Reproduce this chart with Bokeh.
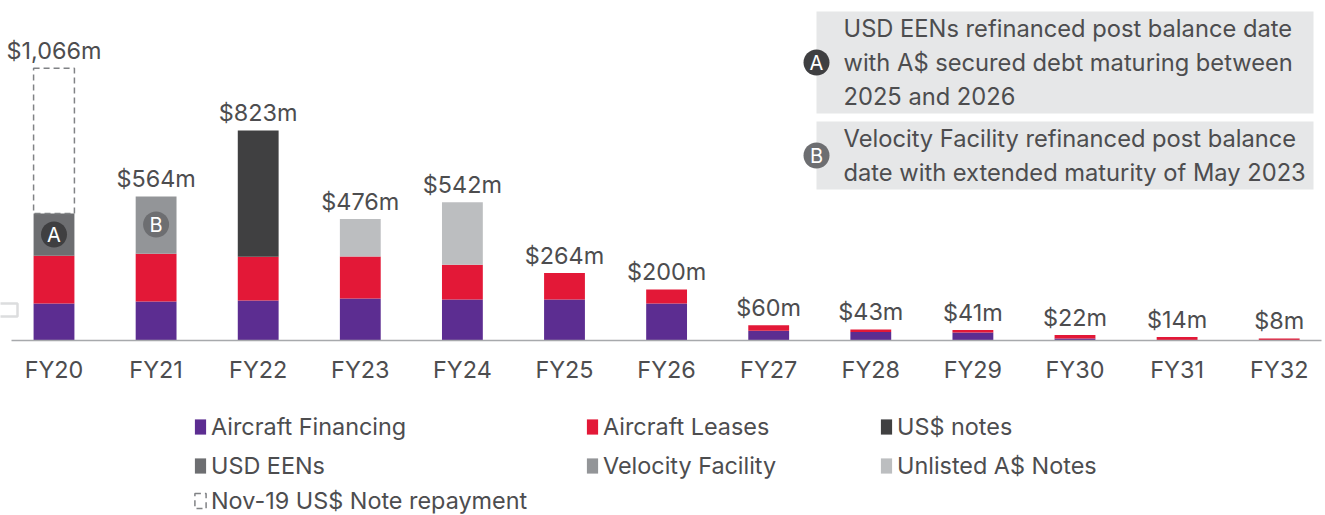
from bokeh.plotting import figure
from bokeh.models import Range1d, FixedTicker, ColumnDataSource, Legend, LegendItem
from bokeh.core.properties import value
from bokeh.embed import file_html
from bokeh.resources import INLINE

years = ["FY20","FY21","FY22","FY23","FY24","FY25","FY26","FY27","FY28","FY29","FY30","FY31","FY32"]
aircraft_financing = [145,153,157,165,161,161,145,38,33,31,8,0,0]
aircraft_leases = [187,187,171,164,136,103,55,22,10,10,14,14,8]
us_notes = [0,0,495,0,0,0,0,0,0,0,0,0,0]
usd_eens = [165,0,0,0,0,0,0,0,0,0,0,0,0]
velocity = [0,224,0,0,0,0,0,0,0,0,0,0,0]
unlisted = [0,0,0,147,245,0,0,0,0,0,0,0,0]
nov19 = [569,0,0,0,0,0,0,0,0,0,0,0,0]
labels = ["$1,066m","$564m","$823m","$476m","$542m","$264m","$200m","$60m","$43m","$41m","$22m","$14m","$8m"]
names = ["Aircraft Financing","Aircraft Leases","US$ notes","USD EENs","Velocity Facility","Unlisted A$ Notes","Nov-19 US$ Note repayment"]
colors = ["#5c2d91","#e31837","#404041","#6d6e71","#939598","#bcbec0"]
note_a = ["USD EENs refinanced post balance date","with A$ secured debt maturing between","2025 and 2026"]
note_b = ["Velocity Facility refinanced post balance","date with extended maturity of May 2023"]

FONT = "Inter"
TXT = "#4d4d4f"
FS = "23.4px"
FS_NOTE = "23.7px"
PXU = 102.1       # px per category
PXV = 0.2553      # px per $m
F_B = 340         # baseline row in the picture
W, H = 1325, 515

def X(px): return (px - 53.5) / PXU
def Y(py): return (F_B - py) / PXV

p = figure(width=W, height=H, output_backend="svg", toolbar_location=None,
           x_range=Range1d(X(0), X(W)), y_range=Range1d(Y(H), Y(0)),
           min_border_left=0, min_border_right=0, min_border_top=0, min_border_bottom=0,
           outline_line_color=None, background_fill_color="white", border_fill_color="white")
p.margin = 0
p.grid.visible = False
p.yaxis.visible = False

xs = list(range(len(years)))
src = ColumnDataSource(dict(x=xs, afin=aircraft_financing, alea=aircraft_leases, usn=us_notes,
                            een=usd_eens, vel=velocity, unl=unlisted))
bars = p.vbar_stack(["afin","alea","usn","een","vel","unl"], x="x", width=0.4, source=src,
                    fill_color=colors, line_color=None)

base = [a+b+c+d+e+f for a,b,c,d,e,f in zip(aircraft_financing,aircraft_leases,us_notes,usd_eens,velocity,unlisted)]
top = [b+n for b,n in zip(base,nov19)]
dash_x = [x for x,n in zip(xs,nov19) if n]
dash_src = ColumnDataSource(dict(x=dash_x, b=[base[i] for i in dash_x], t=[top[i] for i in dash_x]))
dashed = p.vbar(x="x", bottom="b", top="t", width=0.4, source=dash_src, fill_color=None,
                line_color="#808285", line_width=1.5, line_dash="6 4")

# x axis
ax = p.xaxis[0]
ax.fixed_location = 0
ax.bounds = (X(11), X(1321))
ax.ticker = FixedTicker(ticks=xs)
ax.major_label_overrides = {i: y for i, y in enumerate(years)}
ax.major_tick_line_color = None
ax.minor_tick_line_color = None
ax.axis_line_color = "#a7a9ac"
ax.axis_line_width = 1.5
ax.major_label_standoff = 8
ax.major_label_text_font = FONT
ax.major_label_text_font_size = FS
ax.major_label_text_color = TXT

# totals
p.text(xs, top, text=labels, text_font=value(FONT), text_font_size=value(FS), text_color=TXT,
       text_align="center", text_baseline="middle", y_offset=-17.6)

# badges on the bars
p.scatter([0, 1], [Y(234), Y(224)], size=26, marker="circle", fill_color=["#3f3f41","#6d6e71"], line_color=None)
p.text([0, 1], [Y(234), Y(224)], text=["A","B"], text_font=value(FONT), text_font_size=value("20px"),
       text_color="white", text_align="center", text_baseline="middle")

# note panels
p.quad(left=[X(816), X(816)], right=[X(1313), X(1313)], top=[Y(11), Y(121)], bottom=[Y(113), Y(189)],
       fill_color="#e6e7e8", line_color=None)
p.scatter([X(816), X(816)], [Y(62), Y(155)], size=26, marker="circle", fill_color=["#3f3f41","#6d6e71"], line_color=None)
p.text([X(816), X(816)], [Y(62), Y(155)], text=["A","B"], text_font=value(FONT), text_font_size=value("20px"),
       text_color="white", text_align="center", text_baseline="middle")
p.text([X(843)]*3, [Y(28), Y(62), Y(96)], text=note_a, text_font=value(FONT), text_font_size=value(FS_NOTE),
       text_color=TXT, text_align="left", text_baseline="middle")
p.text([X(843)]*2, [Y(138), Y(172)], text=note_b, text_font=value(FONT), text_font_size=value(FS_NOTE),
       text_color=TXT, text_align="left", text_baseline="middle")

# stray frame at the left edge
p.quad(left=[X(-4)], right=[X(17)], top=[Y(303)], bottom=[Y(316)], fill_color=None,
       line_color="#dcddde", line_width=2.5)

def legend(items, x, y):
    lg = Legend(items=items, location=(x, y), orientation="vertical", padding=0, margin=0, spacing=10,
                glyph_width=14, glyph_height=19, label_height=15, label_standoff=4, border_line_color=None,
                background_fill_alpha=0, label_text_font=FONT, label_text_font_size=FS, label_text_color=TXT,
                label_text_baseline="middle")
    p.add_layout(lg, "center")

legend([LegendItem(label=names[0], renderers=[bars[0]]), LegendItem(label=names[3], renderers=[bars[3]])], 193, 35)
legend([LegendItem(label=names[6], renderers=[dashed])], 193, 0)
legend([LegendItem(label=names[1], renderers=[bars[1]]), LegendItem(label=names[4], renderers=[bars[4]])], 585, 35)
legend([LegendItem(label=names[2], renderers=[bars[2]]), LegendItem(label=names[5], renderers=[bars[5]])], 879, 35)

open("out.html", "w").write(file_html(p, INLINE))
